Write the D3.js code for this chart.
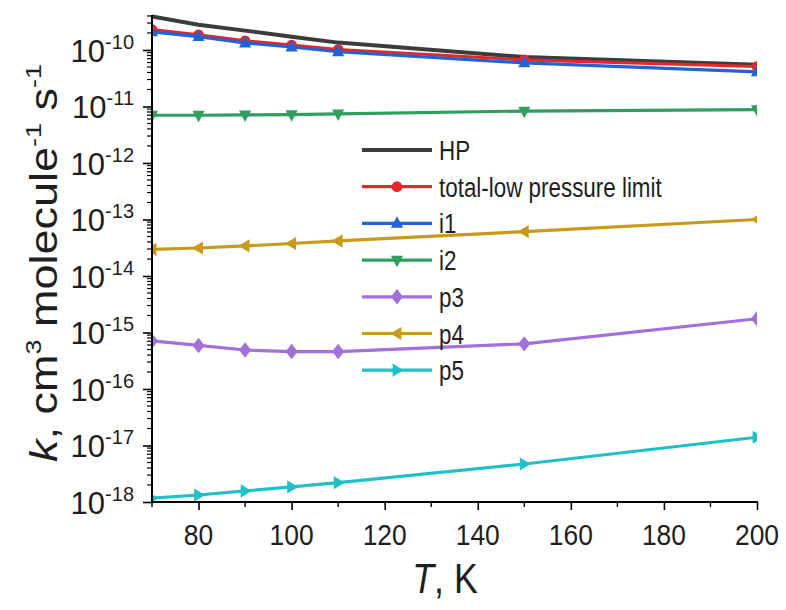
<!DOCTYPE html>
<html>
<head>
<meta charset="utf-8">
<script src="https://cdn.jsdelivr.net/npm/d3@7"></script>
<style>
  html, body { margin: 0; padding: 0; background: #fff; }
  svg { display: block; font-family: "Liberation Sans", Arial, sans-serif; }
</style>
</head>
<body>
<svg id="chart" width="786" height="610"></svg>
<script>
// Temperatures (K)
const temps = [70, 80, 90, 100, 110, 150, 200];

// Rate coefficients, cm^3 molecule^-1 s^-1
const hp    = [3.9e-10, 2.8e-10, 2.2e-10, 1.72e-10, 1.35e-10, 7.5e-11, 5.5e-11];
const total = [2.3e-10, 1.85e-10, 1.45e-10, 1.22e-10, 1.02e-10, 6.7e-11, 5.1e-11];
const i1    = [2.1e-10, 1.72e-10, 1.33e-10, 1.13e-10, 9.3e-11, 5.9e-11, 4.1e-11];
const i2    = [7.0e-12, 7.0e-12, 7.1e-12, 7.2e-12, 7.4e-12, 8.3e-12, 8.8e-12];
const p3    = [7.1e-16, 5.9e-16, 4.9e-16, 4.6e-16, 4.6e-16, 6.3e-16, 1.75e-15];
const p4    = [2.97e-14, 3.13e-14, 3.4e-14, 3.76e-14, 4.17e-14, 6.1e-14, 1.0e-13];
const p5    = [1.17e-18, 1.33e-18, 1.57e-18, 1.85e-18, 2.2e-18, 4.7e-18, 1.4e-17];

const seriesNames = ["HP", "total-low pressure limit", "i1", "i2", "p3", "p4", "p5"];
const seriesValues = [hp, total, i1, i2, p3, p4, p5];
const seriesColors = ["#3c3c3c", "#e5262b", "#2262d3", "#2e9f5e", "#a36fdb", "#c99a1a", "#1fc1c6"];
const seriesMarkers = [null, "circle", "up", "down", "diamond", "left", "right"];

// Axis ticks
const xMajorTicks = [80, 100, 120, 140, 160, 180, 200];
const xMinorTicks = [70, 90, 110, 130, 150, 170, 190];
const yExponents = [-18, -17, -16, -15, -14, -13, -12, -11, -10];

(function draw() {
  const svg = d3.select("#chart");
  const ink = "#1e1e1e";

  const L = 152, R = 757, B = 502, T = 15;
  const x = d3.scaleLinear().domain([70, 200]).range([L, R]);
  const y = d3.scaleLog().domain([1e-18, 4.16e-10]).range([B, T]);

  svg.append("clipPath").attr("id", "plotclip")
    .append("rect").attr("x", L).attr("y", 0).attr("width", R - L).attr("height", B + 5);

  // Marker shape paths, centred on 0,0
  function markerPath(kind, s) {
    switch (kind) {
      case "circle": return d3.symbol(d3.symbolCircle, s * s * 0.75)();
      case "diamond": return `M0,${-s * 0.7}L${s * 0.55},0L0,${s * 0.7}L${-s * 0.55},0Z`;
      case "up": return `M0,${-s * 0.65}L${s * 0.55},${s * 0.4}L${-s * 0.55},${s * 0.4}Z`;
      case "down": return `M0,${s * 0.65}L${s * 0.55},${-s * 0.4}L${-s * 0.55},${-s * 0.4}Z`;
      case "left": return `M${-s * 0.6},0L${s * 0.4},${-s * 0.6}L${s * 0.4},${s * 0.6}Z`;
      case "right": return `M${s * 0.6},0L${-s * 0.4},${-s * 0.6}L${-s * 0.4},${s * 0.6}Z`;
    }
    return "";
  }
  const markerSize = 11;

  const line = d3.line().x(d => x(d[0])).y(d => y(d[1]));

  // Draw series bottom-to-top so HP and the total sit under i1
  const drawOrder = [6, 5, 4, 3, 0, 1, 2];
  const plot = svg.append("g").attr("clip-path", "url(#plotclip)");
  drawOrder.forEach(si => {
    const pts = temps.map((t, k) => [t, seriesValues[si][k]]);
    const g = plot.append("g");
    g.append("path").datum(pts)
      .attr("d", line)
      .attr("fill", "none")
      .attr("stroke", seriesColors[si])
      .attr("stroke-width", si === 0 ? 4 : 3.2)
      .attr("stroke-linejoin", "round");
    if (seriesMarkers[si]) {
      g.selectAll("path.m").data(pts).enter().append("path")
        .attr("class", "m")
        .attr("transform", d => `translate(${x(d[0])},${y(d[1])})`)
        .attr("d", markerPath(seriesMarkers[si], markerSize))
        .attr("fill", seriesColors[si]);
    }
  });

  // X axis
  const xAxis = svg.append("g").attr("transform", `translate(0,${B})`);
  xAxis.call(d3.axisBottom(x).tickValues(xMajorTicks).tickSize(8).tickFormat(""))
    .call(g => g.select(".domain").remove());
  xAxis.selectAll(".tick line").attr("stroke", "#000").attr("stroke-width", 1.6);
  xAxis.selectAll(".minor").data(xMinorTicks).enter().append("line")
    .attr("x1", d => x(d)).attr("x2", d => x(d))
    .attr("y1", 0).attr("y2", 5).attr("stroke", "#000").attr("stroke-width", 1.4);
  xAxis.append("line").attr("x1", L - 1).attr("x2", R + 1).attr("y1", 0).attr("y2", 0)
    .attr("stroke", "#000").attr("stroke-width", 2);

  // X tick labels, slightly condensed
  xMajorTicks.forEach(v => {
    svg.append("text")
      .attr("transform", `translate(${x(v)},${B + 43}) scale(0.88,1)`)
      .attr("text-anchor", "middle")
      .attr("font-size", 30).attr("fill", ink)
      .text(d3.format("d")(v));
  });

  // Y axis
  const yAxis = svg.append("g").attr("transform", `translate(${L},0)`);
  const yMajor = yExponents.map(e => Math.pow(10, e));
  yAxis.call(d3.axisLeft(y).tickValues(yMajor).tickSize(9).tickFormat(""))
    .call(g => g.select(".domain").remove());
  yAxis.selectAll(".tick line").attr("stroke", "#000").attr("stroke-width", 1.6);
  const yMinor = [];
  yExponents.forEach(e => {
    for (let m = 2; m <= 9; m++) {
      const v = m * Math.pow(10, e);
      if (v <= y.domain()[1]) yMinor.push(v);
    }
  });
  yAxis.selectAll(".minor").data(yMinor).enter().append("line")
    .attr("x1", -5).attr("x2", 0)
    .attr("y1", d => y(d)).attr("y2", d => y(d))
    .attr("stroke", "#000").attr("stroke-width", 1.2);
  yAxis.append("line").attr("x1", 0).attr("x2", 0).attr("y1", T).attr("y2", B + 1)
    .attr("stroke", "#000").attr("stroke-width", 2);

  // Y tick labels as 10 with a raised exponent
  yExponents.forEach(e => {
    const t = svg.append("text")
      .attr("transform", `translate(134,${y(Math.pow(10, e)) + 12})`)
      .attr("text-anchor", "end")
      .attr("fill", ink)
      .attr("font-size", 31);
    t.append("tspan").text("10");
    t.append("tspan").attr("font-size", 20).attr("dy", -13).text(String(e));
  });

  // Axis titles
  const xt = svg.append("text")
    .attr("transform", `translate(445,593) scale(0.85,1)`)
    .attr("text-anchor", "middle")
    .attr("font-size", 42).attr("fill", ink);
  xt.append("tspan").attr("font-style", "italic").text("T");
  xt.append("tspan").text(", K");

  const yt = svg.append("text")
    .attr("transform", `translate(57,263) rotate(-90) scale(1,0.85)`)
    .attr("text-anchor", "middle")
    .attr("font-size", 45).attr("fill", ink);
  yt.append("tspan").attr("font-style", "italic").text("k");
  yt.append("tspan").text(", cm");
  yt.append("tspan").attr("font-size", 27).attr("dy", -19).text("3");
  yt.append("tspan").attr("dy", 19).text(" molecule");
  yt.append("tspan").attr("font-size", 27).attr("dy", -19).text("-1");
  yt.append("tspan").attr("dy", 19).text(" s");
  yt.append("tspan").attr("font-size", 27).attr("dy", -19).text("-1");

  // Legend
  const legend = svg.append("g");
  seriesNames.forEach((name, i) => {
    const cy = 150 + i * 36.7;
    const row = legend.append("g");
    row.append("line").attr("x1", 362).attr("x2", 432).attr("y1", cy).attr("y2", cy)
      .attr("stroke", seriesColors[i]).attr("stroke-width", i === 0 ? 4 : 3.2);
    if (seriesMarkers[i]) {
      row.append("path")
        .attr("transform", `translate(397,${cy})`)
        .attr("d", markerPath(seriesMarkers[i], markerSize))
        .attr("fill", seriesColors[i]);
    }
    row.append("text")
      .attr("transform", `translate(439,${cy + 10}) scale(0.8,1)`)
      .attr("font-size", 28).attr("fill", ink).text(name);
  });
})();
</script>
</body>
</html>
